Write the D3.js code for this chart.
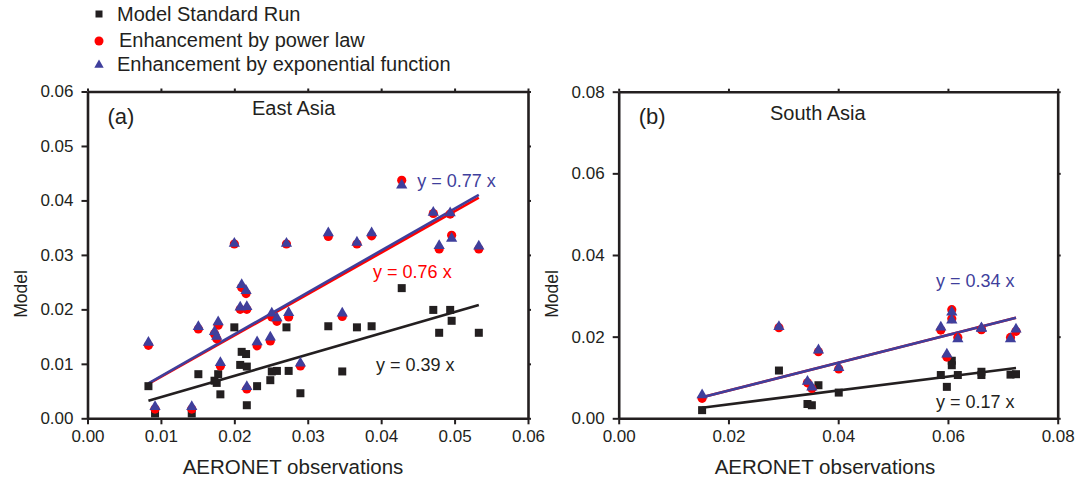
<!DOCTYPE html>
<html>
<head>
<meta charset="utf-8">
<script src="https://cdn.jsdelivr.net/npm/d3@7"></script>
<style>
  body { margin: 0; background: #fff; }
  text { font-family: Arial, "Liberation Sans", Helvetica, sans-serif; fill: #231f20; }
</style>
</head>
<body>
<div id="chart"></div>
<script>
// East Asia (a): AERONET obs, model standard run, power law, exponential
const eaObs = [0.0083, 0.0092, 0.0142, 0.0151, 0.0173, 0.0176, 0.0178, 0.0181, 0.0200, 0.0208, 0.0210, 0.0216, 0.0217, 0.0217, 0.0231, 0.0249,
  0.0251, 0.0258, 0.0271, 0.0274, 0.0290, 0.0328, 0.0347, 0.0367, 0.0387, 0.0428, 0.0471, 0.0479, 0.0494, 0.0496, 0.0533];
const eaStd = [0.0059, 0.0009, 0.0009, 0.0081, 0.0069, 0.0065, 0.0081, 0.0044, 0.0167, 0.0098, 0.0122, 0.0118, 0.0095, 0.0024, 0.0059, 0.0070,
  0.0086, 0.0087, 0.0167, 0.0087, 0.0046, 0.0169, 0.0086, 0.0167, 0.0169, 0.0239, 0.0199, 0.0157, 0.0199, 0.0179, 0.0157];
const eaPow = [0.0134, 0.0017, 0.0017, 0.0164, 0.0155, 0.0146, 0.0171, 0.0096, 0.0320, 0.0200, 0.0240, 0.0229, 0.0200, 0.0054, 0.0133, 0.0142,
  0.0186, 0.0178, 0.0320, 0.0186, 0.0096, 0.0334, 0.0187, 0.0320, 0.0335, 0.0437, 0.0376, 0.0311, 0.0375, 0.0336, 0.0311];
const eaExp = [0.0139, 0.0021, 0.0021, 0.0168, 0.0159, 0.0150, 0.0177, 0.0102, 0.0321, 0.0204, 0.0245, 0.0234, 0.0205, 0.0058, 0.0140, 0.0149,
  0.0193, 0.0184, 0.0321, 0.0194, 0.0101, 0.0340, 0.0193, 0.0323, 0.0340, 0.0428, 0.0378, 0.0317, 0.0377, 0.0330, 0.0316];

// South Asia (b)
const saObs = [0.0152, 0.0292, 0.0344, 0.0352, 0.0364, 0.0401, 0.0587, 0.0598, 0.0607, 0.0607, 0.0618, 0.0661, 0.0661, 0.0714, 0.0724];
const saStd = [0.0020, 0.0117, 0.0035, 0.0032, 0.0081, 0.0063, 0.0106, 0.0077, 0.0141, 0.0130, 0.0106, 0.0114, 0.0106, 0.0107, 0.0108];
const saPow = [0.0049, 0.0222, 0.0087, 0.0073, 0.0163, 0.0121, 0.0216, 0.0150, 0.0266, 0.0244, 0.0198, 0.0218, 0.0217, 0.0198, 0.0213];
const saExp = [0.0057, 0.0224, 0.0090, 0.0076, 0.0167, 0.0124, 0.0223, 0.0157, 0.0260, 0.0240, 0.0194, 0.0220, 0.0221, 0.0194, 0.0218];

// regression slopes: standard, power law, exponential
const eaSlopes = [0.39, 0.76, 0.77];
const saSlopes = [0.17, 0.34, 0.34];

const eaTicks = [0, 0.01, 0.02, 0.03, 0.04, 0.05, 0.06];
const saTicks = [0, 0.02, 0.04, 0.06, 0.08];

const legendLabels = ['Model Standard Run', 'Enhancement by power law', 'Enhancement by exponential function'];

const width = 1092;
const height = 481;
const colBlack = '#231f20', colRed = '#ff0000', colBlue = '#3f3f9c';
const fmt = d3.format('.2f');

const svg = d3.select('#chart').append('svg')
  .attr('width', width)
  .attr('height', height);

function drawPanel(p) {
  const x = d3.scaleLinear().domain([0, p.ticks[p.ticks.length - 1]]).range([p.left, p.right]);
  const y = d3.scaleLinear().domain([0, p.ticks[p.ticks.length - 1]]).range([p.bottom, p.top]);
  const g = svg.append('g');

  // fit lines (standard, power law, exponential)
  const x0 = d3.min(p.obs), x1 = d3.max(p.obs);
  const lineCols = [colBlack, colRed, colBlue];
  p.slopes.forEach((s, i) => {
    g.append('line')
      .attr('x1', x(x0)).attr('y1', y(s * x0))
      .attr('x2', x(x1)).attr('y2', y(s * x1))
      .attr('stroke', lineCols[i])
      .attr('stroke-width', 2.6);
  });

  // markers
  g.append('g').selectAll('rect')
    .data(p.obs)
    .join('rect')
    .attr('x', (d, i) => x(d) - 4)
    .attr('y', (d, i) => y(p.std[i]) - 4)
    .attr('width', 8).attr('height', 8)
    .attr('fill', colBlack);

  g.append('g').selectAll('circle')
    .data(p.obs)
    .join('circle')
    .attr('cx', d => x(d))
    .attr('cy', (d, i) => y(p.pow[i]))
    .attr('r', 4.6)
    .attr('fill', colRed);

  g.append('g').selectAll('path')
    .data(p.obs)
    .join('path')
    .attr('d', d3.symbol(d3.symbolTriangle, 55))
    .attr('transform', (d, i) => `translate(${x(d)},${y(p.exp[i])})`)
    .attr('fill', colBlue);

  // axes
  const styleAxis = a => {
    a.select('.domain').attr('stroke', colBlack).attr('stroke-width', 2.6);
    a.selectAll('.tick line').attr('stroke', colBlack).attr('stroke-width', 2);
    a.selectAll('text').attr('font-size', 17).attr('font-family', 'Arial, "Liberation Sans", sans-serif');
  };
  g.append('g').attr('transform', `translate(0,${p.bottom})`)
    .call(d3.axisBottom(x).tickValues(p.ticks).tickFormat(fmt).tickSize(6).tickSizeOuter(0).tickPadding(6))
    .call(styleAxis);
  g.append('g').attr('transform', `translate(${p.left},0)`)
    .call(d3.axisLeft(y).tickValues(p.ticks).tickFormat(fmt).tickSize(6).tickSizeOuter(0).tickPadding(8))
    .call(styleAxis);
  g.append('g').attr('transform', `translate(0,${p.top})`)
    .call(d3.axisTop(x).tickValues(p.ticks).tickFormat('').tickSize(3).tickSizeOuter(0))
    .call(styleAxis);
  g.append('g').attr('transform', `translate(${p.right},0)`)
    .call(d3.axisRight(y).tickValues(p.ticks).tickFormat('').tickSize(3).tickSizeOuter(0))
    .call(styleAxis);

  // labels
  g.append('text').attr('x', p.left + 20).attr('y', p.top + 25)
    .attr('dy', '0.35em').attr('font-size', 22).text(p.tag);
  g.append('text').attr('x', p.titleX).attr('y', p.titleY)
    .attr('dy', '0.35em').attr('font-size', 20).text(p.title);
  g.append('text').attr('x', p.xTitleX).attr('y', 467)
    .attr('text-anchor', 'middle').attr('dy', '0.35em').attr('font-size', 20.5).text('AERONET observations');
  g.append('text')
    .attr('transform', `translate(${p.left - 67},294) rotate(-90)`)
    .attr('text-anchor', 'middle').attr('dy', '0.35em').attr('font-size', 17.5).text('Model');

  p.fitLabels.forEach(f => {
    g.append('text')
      .attr('x', x(f.at[0])).attr('y', y(f.at[1]))
      .attr('dy', '0.35em').attr('font-size', 18)
      .style('fill', f.col)
      .text(`y = ${p.slopes[f.k]} x`);
  });
}

drawPanel({
  left: 87.5, right: 528, top: 91.5, bottom: 418.3,
  ticks: eaTicks, obs: eaObs, std: eaStd, pow: eaPow, exp: eaExp, slopes: eaSlopes,
  tag: '(a)', title: 'East Asia', titleX: 252, titleY: 108, xTitleX: 293,
  fitLabels: [
    { k: 2, col: colBlue, at: [0.0449, 0.0437] },
    { k: 1, col: colRed, at: [0.0389, 0.0269] },
    { k: 0, col: colBlack, at: [0.0393, 0.0099] }
  ]
});

drawPanel({
  left: 618.7, right: 1057.7, top: 91.7, bottom: 418.3,
  ticks: saTicks, obs: saObs, std: saStd, pow: saPow, exp: saExp, slopes: saSlopes,
  tag: '(b)', title: 'South Asia', titleX: 770, titleY: 113, xTitleX: 825,
  fitLabels: [
    { k: 2, col: colBlue, at: [0.0578, 0.0337] },
    { k: 0, col: colBlack, at: [0.0578, 0.0041] }
  ]
});

// legend
const legend = svg.append('g');
legend.append('rect').attr('x', 95.5).attr('y', 10.5).attr('width', 7).attr('height', 7).attr('fill', colBlack);
legend.append('circle').attr('cx', 99).attr('cy', 41).attr('r', 4.5).attr('fill', colRed);
legend.append('path').attr('d', d3.symbol(d3.symbolTriangle, 38))
  .attr('transform', 'translate(99,65)').attr('fill', colBlue);
legend.selectAll('text')
  .data(legendLabels)
  .join('text')
  .attr('x', (d, i) => i === 1 ? 119 : 117)
  .attr('y', (d, i) => [14, 40, 64][i])
  .attr('dy', '0.35em')
  .attr('font-size', 20)
  .text(d => d);
</script>
</body>
</html>
